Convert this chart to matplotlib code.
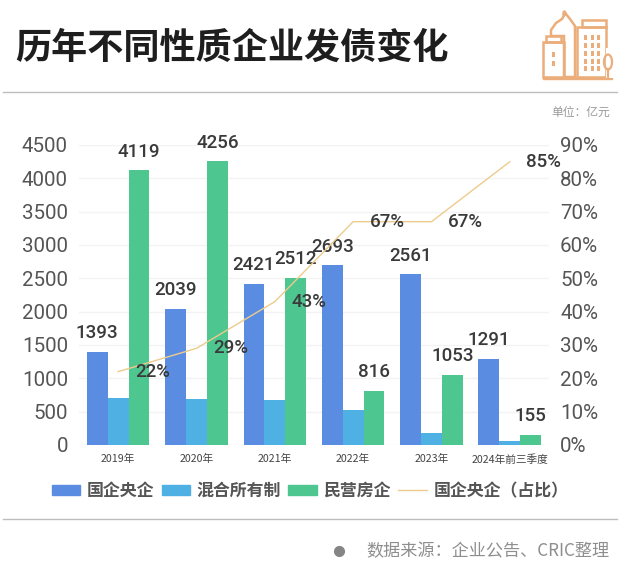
"""历年不同性质企业发债变化 — bars plus share line on a twin axis."""
import matplotlib
matplotlib.use("Agg")
import matplotlib.pyplot as plt
from matplotlib.lines import Line2D
from matplotlib.patches import Ellipse, Patch, Polygon, Rectangle
import numpy as np

CJK = ["Noto Sans CJK SC", "DejaVu Sans"]
NUM = ["Roboto", "Noto Sans CJK SC"]
plt.rcParams["font.family"] = CJK

years = ["2019年", "2020年", "2021年", "2022年", "2023年", "2024年前三季度"]
soe = [1393, 2039, 2421, 2693, 2561, 1291]
mixed = [705, 690, 675, 525, 180, 65]
private = [4119, 4256, 2512, 816, 1053, 155]
soe_share = [22, 29, 43, 67, 67, 85]

BLUE, SKY, GREEN, GOLD = "#5A8DE2", "#4FB0E4", "#4DC690", "#EDCB8C"
TICK, LABEL, RULE = "#555555", "#3A3A3A", "#BDBDBD"
W, H = 620, 586


def px(x, y):
    """像素坐标 (左上原点) -> figure 坐标."""
    return x / W, 1 - y / H


def draw_icon(ax):
    c = "#EBAE7A"
    kw = dict(fill=False, ec=c, lw=1.8)
    ax.add_patch(Rectangle((543, 77), 69, 2, fc=c, ec=c))
    # 中间塔楼
    ax.add_patch(Polygon([(551, 36), (551, 30), (556, 23), (562, 19), (565, 14), (563.5, 14),
                          (563.5, 14), (564, 11), (566, 14), (570, 19), (575, 26), (575, 77),
                          (564, 77), (564, 36)], closed=True, **kw))
    # 左侧矮楼
    ax.add_patch(Rectangle((543, 42), 21, 35, **kw))
    ax.add_patch(Rectangle((546, 36), 15, 6, **kw))
    # 右侧高楼
    ax.add_patch(Rectangle((577, 27), 29, 50, **kw))
    ax.add_patch(Rectangle((582, 20), 24, 7, **kw))
    for x in (584, 591, 597):
        for y in (35, 43, 51, 59, 66):
            ax.add_patch(Rectangle((x, y), 3, 5, fc=c, ec="none"))
    for y in (52, 61):
        ax.add_patch(Rectangle((552, y), 3, 5, fc=c, ec="none"))
    # 小树
    ax.add_patch(Rectangle((606, 48), 8, 30, fc="white", ec="none"))
    ax.add_patch(Ellipse((608, 62), 8, 15, fill=False, ec=c, lw=1.6))
    ax.plot([608, 608], [69, 77], color=c, lw=1.6)


fig = plt.figure(figsize=(6.2, 5.86), dpi=100, facecolor="white")

# 背景层: 分隔线 / 图标 / 圆点
bg = fig.add_axes([0, 0, 1, 1], zorder=0)
bg.set_xlim(0, W)
bg.set_ylim(H, 0)
bg.axis("off")
bg.plot([3, 617], [92, 92], color=RULE, lw=1)
bg.plot([3, 617], [519, 519], color=RULE, lw=1)
bg.plot([339], [551], "o", color="#858585", ms=7)
draw_icon(bg)

ax = fig.add_axes([79 / W, 1 - 445 / H, 470 / W, 300 / H], zorder=1)
ax.patch.set_alpha(0)
x = np.arange(len(years))
w = 0.8 / 3
b1 = ax.bar(x - w, soe, w, color=BLUE)
b2 = ax.bar(x, mixed, w, color=SKY)
b3 = ax.bar(x + w, private, w, color=GREEN)

for bars, vals in ((b1, soe), (b3, private)):
    for r, v in zip(bars, vals):
        ax.annotate(str(v), (r.get_x() + r.get_width() / 2, v), xytext=(0, 13.5),
                    textcoords="offset points", ha="center", va="center",
                    fontsize=13.5, family=NUM, fontweight="medium", color=LABEL, zorder=6)

ax.set_xlim(-0.5, len(years) - 0.5)
ax.set_ylim(0, 4500)
ax.set_yticks(range(0, 4501, 500))
ax.set_xticks(x, years)
ax.grid(axis="y", color="#F3F3F3", lw=1)
ax.set_axisbelow(True)
ax.tick_params(axis="y", length=0, pad=8, labelsize=14.8, labelcolor=TICK)
ax.tick_params(axis="x", length=0, pad=6.5, labelsize=7.7, labelcolor="#444444")
for lab in ax.get_yticklabels():
    lab.set_family(NUM)
for lab in ax.get_xticklabels():
    lab.set_fontweight("medium")
for s in ax.spines.values():
    s.set_visible(False)

ax2 = ax.twinx()
ax2.plot(x, soe_share, color=GOLD, lw=1, zorder=5)
ax2.set_ylim(0, 90)
ax2.set_yticks(range(0, 91, 10), [f"{v}%" for v in range(0, 91, 10)])
ax2.tick_params(axis="y", length=0, pad=8, labelsize=14.8, labelcolor=TICK)
for lab in ax2.get_yticklabels():
    lab.set_family(NUM)
for s in ax2.spines.values():
    s.set_visible(False)
for xi, v in zip(x, soe_share):
    ax2.annotate(f"{v}%", (xi, v), xytext=(24.5, 0), textcoords="offset points",
                 ha="center", va="center", fontsize=13.5, family=NUM,
                 fontweight="medium", color=LABEL, zorder=6)

handles = [Patch(color=BLUE), Patch(color=SKY), Patch(color=GREEN), Line2D([], [], color=GOLD, lw=1)]
fig.legend(handles, ["国企央企", "混合所有制", "民营房企", "国企央企（占比）"],
           loc="center", bbox_to_anchor=px(310, 491), ncol=4, frameon=False,
           handlelength=1.7, handleheight=0.6, handletextpad=0.38, columnspacing=0.42,
           borderpad=0, labelcolor="#555555", prop={"family": CJK, "size": 12.2, "weight": "bold"})

fig.text(*px(15, 48), "历年不同性质企业发债变化", fontsize=26, fontweight="bold",
         color="#1E1E1E", ha="left", va="center")
fig.text(*px(610, 112), "单位：亿元", fontsize=8.5, color="#9A9A9A", ha="right", va="center")
fig.text(*px(609, 551), "数据来源：企业公告、CRIC整理", fontsize=12.3, color="#8E8E8E",
         ha="right", va="center")

fig.savefig("out.png", dpi=100)
